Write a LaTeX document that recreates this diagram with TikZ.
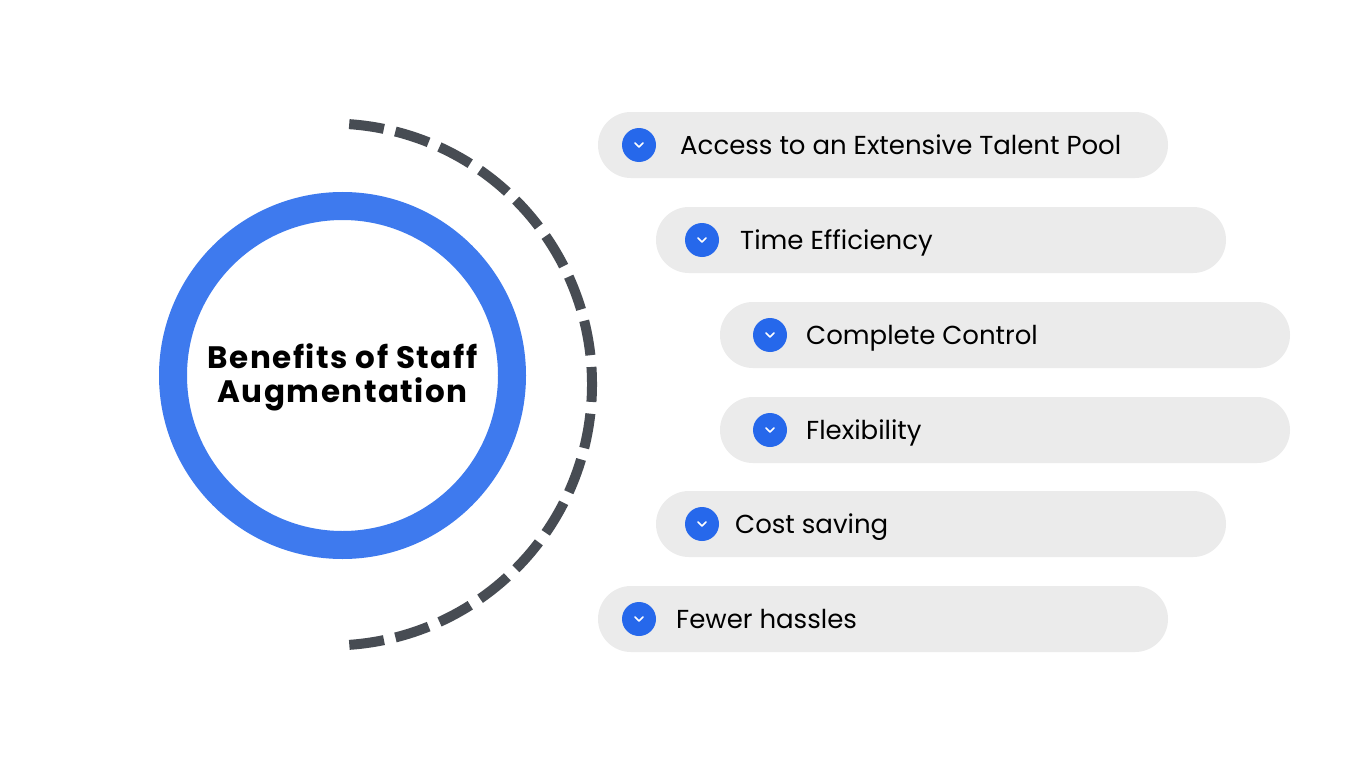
\documentclass[tikz,border=0pt]{standalone}
\usepackage{fontspec}
\setmainfont{Poppins}
\usepackage{tikz}
\usetikzlibrary{shapes.misc}
\usetikzlibrary{arrows.meta}

\definecolor{ringblue}{HTML}{3E7AEE}
\definecolor{dotblue}{HTML}{2668EB}
\definecolor{pillgray}{HTML}{EBEBEB}
\definecolor{dashgray}{HTML}{474C53}

\begin{document}
\begin{tikzpicture}[x=1pt, y=-1pt,
    pill/.style={rounded rectangle, fill=pillgray, minimum height=66pt, inner sep=0pt},
    dot/.style={circle, fill=dotblue, minimum size=34pt, inner sep=0pt},
    chev/.style={white, line width=1.6pt, line cap=round, line join=round},
    item/.style={anchor=base west, inner sep=0pt, font=\fontsize{26}{30}\selectfont},
    ring/.style={draw=ringblue, line width=28pt},
    dashline/.style={draw=dashgray, line width=10pt, dash pattern=on 35pt off 11.78pt}]
    \useasboundingbox[fill=white] (0,0) rectangle (1366,768);

    % centre circle and dashed arc
    \draw[ring] (342.5,375.5) circle (169.5);
    \node[align=center, inner sep=0pt, font=\fontsize{31}{34}\bfseries\addfontfeature{LetterSpace=4.8}\selectfont] (title) at (342.5,377) {Benefits of Staff\\Augmentation};
    \coordinate (arcmid) at (331,384.5);
    \draw[dashline] (arcmid) ++(-86:261) arc[start angle=-86, end angle=86, radius=261];

    % benefits
    \node[pill, minimum width=570pt] (access) at (883,145) {};
    \node[dot] (accessdot) at (639,145) {};
    \draw[chev] (accessdot.center) ++(-4,-2) -- ++(4,4) -- ++(4,-4);
    \node[item] (accesstxt) at (680,154.5) {Access to an Extensive Talent Pool};

    \node[pill, minimum width=570pt] (time) at (941,240) {};
    \node[dot] (timedot) at (702,240) {};
    \draw[chev] (timedot.center) ++(-4,-2) -- ++(4,4) -- ++(4,-4);
    \node[item] (timetxt) at (740,249.5) {Time Efficiency};

    \node[pill, minimum width=570pt] (control) at (1005,335) {};
    \node[dot] (controldot) at (770,335) {};
    \draw[chev] (controldot.center) ++(-4,-2) -- ++(4,4) -- ++(4,-4);
    \node[item] (controltxt) at (806,344.5) {Complete Control};

    \node[pill, minimum width=570pt] (flex) at (1005,430) {};
    \node[dot] (flexdot) at (770,430) {};
    \draw[chev] (flexdot.center) ++(-4,-2) -- ++(4,4) -- ++(4,-4);
    \node[item] (flextxt) at (806,439.5) {Flexibility};

    \node[pill, minimum width=570pt] (cost) at (941,524) {};
    \node[dot] (costdot) at (702,524) {};
    \draw[chev] (costdot.center) ++(-4,-2) -- ++(4,4) -- ++(4,-4);
    \node[item] (costtxt) at (735,533.5) {Cost saving};

    \node[pill, minimum width=570pt] (hassle) at (883,619) {};
    \node[dot] (hassledot) at (639,619) {};
    \draw[chev] (hassledot.center) ++(-4,-2) -- ++(4,4) -- ++(4,-4);
    \node[item] (hassletxt) at (676,628.5) {Fewer hassles};
\end{tikzpicture}
\end{document}
